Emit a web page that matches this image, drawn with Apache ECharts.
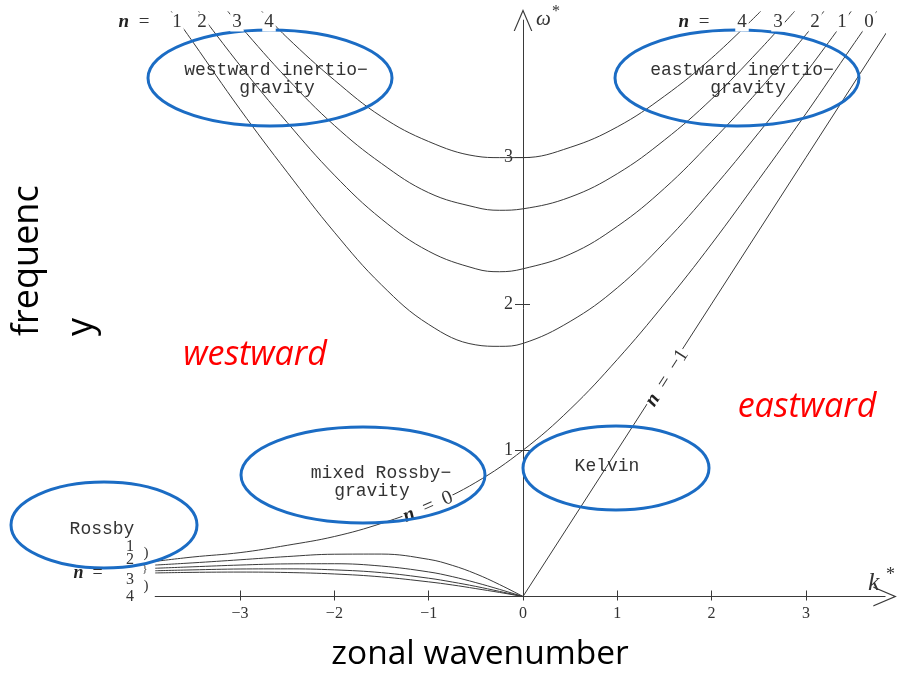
<!DOCTYPE html>
<html><head><meta charset="utf-8">
<script src="https://cdn.jsdelivr.net/npm/echarts@6/dist/echarts.min.js"></script>
<style>html,body{margin:0;padding:0;background:#fff}#c{width:899px;height:684px}</style>
</head><body><div id="c"></div>
<script>
// tick labels
const xTicks = [-3, -2, -1, 0, 1, 2, 3];
const yTicks = [1, 2, 3];
// inertio-gravity waves n = 1..4  [k*, omega*]
const igN1 = [[-3.73,4.0],[-3.5,3.79],[-3,3.33],[-2.5,2.90],[-2,2.49],[-1.5,2.13],[-1,1.86],[-0.5,1.72],[-0.25,1.71],[0,1.73],[0.5,1.88],[1,2.11],[1.5,2.42],[2,2.78],[2.5,3.17],[3,3.58],[3.48,4.0]];
const igN2 = [[-3.44,4.0],[-3,3.63],[-2.5,3.24],[-2,2.88],[-1.5,2.58],[-1,2.36],[-0.5,2.24],[-0.25,2.22],[0,2.24],[0.5,2.34],[1,2.53],[1.5,2.79],[2,3.11],[2.5,3.46],[3,3.84],[3.19,4.0]];
const igN3 = [[-3.13,4.0],[-3,3.90],[-2.5,3.54],[-2,3.22],[-1.5,2.96],[-1,2.76],[-0.5,2.66],[-0.25,2.64],[0,2.65],[0.5,2.73],[1,2.89],[1.5,3.12],[2,3.40],[2.5,3.73],[2.88,4.0]];
const igN4 = [[-2.77,4.0],[-2.5,3.82],[-2,3.53],[-1.5,3.28],[-1,3.11],[-0.5,3.01],[-0.25,3.0],[0,3.0],[0.5,3.07],[1,3.21],[1.5,3.42],[2,3.68],[2.52,4.0]];
// mixed Rossby-gravity (n = 0)
const mrg = [[-3.9,0.24],[-3.5,0.27],[-3,0.30],[-2.5,0.35],[-2,0.41],[-1.5,0.5],[-1,0.62],[-0.5,0.78],[0,1.0],[0.5,1.28],[1,1.62],[1.5,2.0],[2,2.41],[2.5,2.85],[3,3.30],[3.5,3.77],[3.75,4.0]];
// Kelvin (n = -1)
const kelvin = [[0,0],[1,1],[2,2],[3,3],[4,4]];
// Rossby waves n = 1..4
const r1 = [[-3.9,0.215],[-3.5,0.230],[-3,0.251],[-2.5,0.273],[-2,0.289],[-1.5,0.290],[-1,0.254],[-0.75,0.213],[-0.5,0.155],[-0.25,0.082],[0,0]];
const r2 = [[-3.9,0.193],[-3.5,0.203],[-3,0.215],[-2.5,0.223],[-2,0.224],[-1.5,0.208],[-1,0.168],[-0.75,0.136],[-0.5,0.095],[-0.25,0.049],[0,0]];
const r3 = [[-3.9,0.176],[-3.5,0.182],[-3,0.188],[-2.5,0.189],[-2,0.182],[-1.5,0.163],[-1,0.125],[-0.75,0.099],[-0.5,0.069],[-0.25,0.035],[0,0]];
const r4 = [[-3.9,0.161],[-3.5,0.165],[-3,0.167],[-2.5,0.164],[-2,0.154],[-1.5,0.134],[-1,0.100],[-0.75,0.079],[-0.5,0.054],[-0.25,0.028],[0,0]];

const chart = echarts.init(document.getElementById('c'), null, {renderer: 'canvas'});
const lc = '#3a3a3a';
const serif = '"Liberation Serif", "DejaVu Serif", serif';
const mono = '"Liberation Mono", "DejaVu Sans Mono", monospace';
const sans = '"Open Sans", "Noto Sans", sans-serif';
const blue = '#1b6cc4';
const chevron = 'path://M0,20L8.5,0L17,20L15.9,20L8.5,2.6L1.1,20Z';
const gridLeft = 155.2;
const yAxisOffset = -(523 - gridLeft);

function curve(data, smooth) {
  return {type: 'line', data: data, showSymbol: false, smooth: smooth === undefined ? 0.4 : smooth,
    clip: false, silent: true, animation: false, z: 2,
    lineStyle: {color: lc, width: 1}, xAxisIndex: 0, yAxisIndex: 0};
}
function ell(cx, cy, rx, ry) {
  return {type: 'ellipse', z: 100, silent: true, shape: {cx: cx, cy: cy, rx: rx, ry: ry},
    style: {fill: 'none', stroke: blue, lineWidth: 3}};
}
function txt(x, y, s, font, opts) {
  opts = opts || {};
  const st = {text: s, font: font, fill: opts.fill || '#333', align: opts.align || 'center', verticalAlign: opts.va || 'middle'};
  if (opts.bg) { st.backgroundColor = '#fff'; st.padding = opts.pad || [0, 2]; }
  if (s.indexOf('{n|') >= 0) {
    const size = parseInt(font.replace(/^[a-z ]*/, ''), 10);
    st.rich = {n: {font: 'italic bold ' + size + 'px ' + serif, fill: '#222'}};
  }
  return {type: 'text', x: x, y: y, rotation: opts.rot || 0, z: opts.z || 110, silent: true, style: st};
}
const fmtX = v => v < 0 ? '\u2212' + (-v) : String(v);

const graphics = [
  ell(270, 78, 122, 48), ell(737, 78, 122, 48), ell(363, 475, 122, 48), ell(616, 468, 93, 42), ell(104, 525, 93, 43),
  txt(276, 70, 'westward inertio\u2212', '18px ' + mono),
  txt(277, 88, 'gravity', '18px ' + mono),
  txt(742, 70, 'eastward inertio\u2212', '18px ' + mono),
  txt(748, 88, 'gravity', '18px ' + mono),
  txt(381, 473, 'mixed Rossby\u2212', '18px ' + mono),
  txt(372, 491, 'gravity', '18px ' + mono),
  txt(607, 466, 'Kelvin', '18px ' + mono),
  txt(102, 529, 'Rossby', '18px ' + mono),
  // n labels top-left
  txt(134, 22, '{n|n}  =', '19px ' + serif),
  txt(177, 22, '1', '19px ' + serif, {bg: true}),
  txt(202, 22, '2', '19px ' + serif, {bg: true}),
  txt(237, 22, '3', '19px ' + serif, {bg: true}),
  txt(269, 22, '4', '19px ' + serif, {bg: true}),
  // n labels top-right
  txt(694, 22, '{n|n}  =', '19px ' + serif),
  txt(742, 22, '4', '19px ' + serif, {bg: true}),
  txt(778, 22, '3', '19px ' + serif, {bg: true}),
  txt(815, 22, '2', '19px ' + serif, {bg: true}),
  txt(842, 22, '1', '19px ' + serif, {bg: true}),
  txt(869, 22, '0', '19px ' + serif, {bg: true}),
  // Rossby n labels
  txt(88, 573, '{n|n}  =', '18px ' + serif),
  txt(130, 547, '1', '16px ' + serif),
  txt(130, 560, '2', '16px ' + serif),
  txt(130, 580, '3', '16px ' + serif),
  txt(130, 597, '4', '16px ' + serif),
  txt(146, 553, ')', '15px ' + serif),
  txt(145, 569, '}', '11px ' + serif),
  txt(146, 586, ')', '15px ' + serif),
  // along-curve labels
  txt(428, 507, '{n|n}  =  0', '20px ' + serif, {bg: true, rot: 0.41, pad: [0, 1], z: 50}),
  txt(667, 378, '{n|n}  =  \u22121', '20px ' + serif, {bg: true, rot: 1.0, pad: [0, 1], z: 50}),
  // axis names
  txt(536, 19, '\u03c9', 'italic 21px ' + serif, {align: 'left'}),
  txt(552, 12, '*', '16px ' + serif, {align: 'left'}),
  txt(868, 583, 'k', 'italic 26px ' + serif, {align: 'left'}),
  txt(886, 575, '*', '18px ' + serif, {align: 'left'}),
  // big labels
  txt(28, 336, 'frequenc', '36px ' + sans, {align: 'left', rot: Math.PI / 2, fill: '#000'}),
  txt(82, 336, 'y', '36px ' + sans, {align: 'left', rot: Math.PI / 2, fill: '#000'}),
  txt(480, 654, 'zonal wavenumber', '33.5px ' + sans, {fill: '#000'}),
  txt(255, 355, 'westward', 'italic 34px ' + sans, {fill: '#ff0000'}),
  txt(807, 407, 'eastward', 'italic 34px ' + sans, {fill: '#ff0000'})
];

const option = {
  animation: false,
  backgroundColor: '#fff',
  grid: {left: gridLeft, right: 13.9, top: 20.1, bottom: 87.5, containLabel: false},
  xAxis: [
    {type: 'value', min: -3.9, max: 3.84, position: 'bottom',
      axisLine: {show: true, onZero: true, symbol: ['none', chevron], symbolSize: [20, 25], lineStyle: {color: lc, width: 1}},
      axisTick: {show: true, inside: true, length: 6, customValues: xTicks, lineStyle: {color: lc}},
      axisLabel: {customValues: xTicks, formatter: fmtX, margin: 9, color: '#333', fontFamily: serif, fontSize: 16},
      splitLine: {show: false}},
    {type: 'value', min: -3.9, max: 3.84, position: 'bottom',
      axisLine: {show: true, onZero: true, lineStyle: {color: lc, width: 1, opacity: 0}},
      axisTick: {show: true, inside: false, length: 4, customValues: xTicks, lineStyle: {color: lc}},
      axisLabel: {show: false}, splitLine: {show: false}}
  ],
  yAxis: [
    {type: 'value', min: 0, max: 3.94, position: 'left', offset: yAxisOffset,
      axisLine: {show: true, onZero: false, symbol: ['none', chevron], symbolSize: [19, 22], lineStyle: {color: lc, width: 1}},
      axisTick: {show: true, inside: false, length: 8, customValues: yTicks, lineStyle: {color: lc}},
      axisLabel: {customValues: yTicks, margin: 10, color: '#333', fontFamily: serif, fontSize: 18},
      splitLine: {show: false}},
    {type: 'value', min: 0, max: 3.94, position: 'left', offset: yAxisOffset,
      axisLine: {show: true, onZero: false, lineStyle: {color: lc, width: 1, opacity: 0}},
      axisTick: {show: true, inside: true, length: 7, customValues: yTicks, lineStyle: {color: lc}},
      axisLabel: {show: false}, splitLine: {show: false}}
  ],
  series: [
    curve(igN1), curve(igN2), curve(igN3), curve(igN4),
    curve(mrg), curve(kelvin, false),
    curve(r1), curve(r2), curve(r3), curve(r4)
  ],
  graphic: {elements: graphics}
};
chart.setOption(option);
</script>
</body></html>
